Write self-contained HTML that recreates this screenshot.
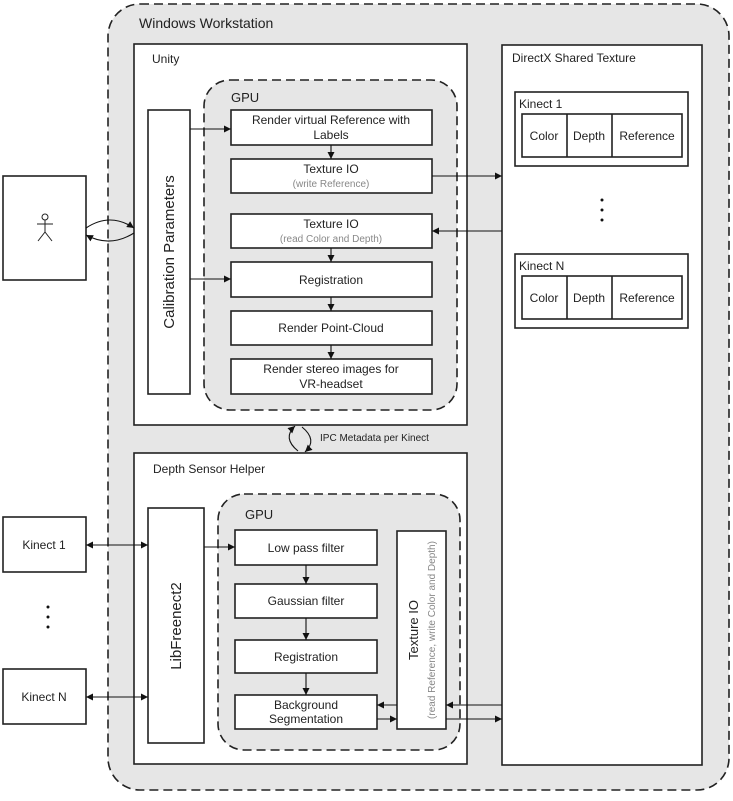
<!DOCTYPE html>
<html><head><meta charset="utf-8"><style>
body{margin:0;background:#fff}
svg text{font-family:"Liberation Sans",sans-serif;fill:#222}
</style></head><body>
<svg width="733" height="796" viewBox="0 0 733 796" xmlns="http://www.w3.org/2000/svg">
<defs>
<marker id="a" markerWidth="8" markerHeight="8" refX="7" refY="4" orient="auto" markerUnits="userSpaceOnUse"><path d="M0,0.5 L7,4 L0,7.5 Z" fill="#111"/></marker>
<marker id="b" markerWidth="8" markerHeight="8" refX="1" refY="4" orient="auto" markerUnits="userSpaceOnUse"><path d="M8,0.5 L1,4 L8,7.5 Z" fill="#111"/></marker>
</defs>
<g stroke="#222" stroke-width="1.6">
<rect x="108" y="4" width="621" height="786" rx="32" fill="#e6e6e6" stroke-dasharray="9,5"/>
<rect x="134" y="44" width="333" height="381" fill="#fff"/>
<rect x="204" y="80" width="253" height="330" rx="26" fill="#e6e6e6" stroke-dasharray="9,5"/>
<rect x="148" y="110" width="42" height="284" fill="#fff"/>
<rect x="231" y="110" width="201" height="35" fill="#fff"/>
<rect x="231" y="159" width="201" height="34" fill="#fff"/>
<rect x="231" y="214" width="201" height="34" fill="#fff"/>
<rect x="231" y="262" width="201" height="35" fill="#fff"/>
<rect x="231" y="311" width="201" height="34" fill="#fff"/>
<rect x="231" y="359" width="201" height="35" fill="#fff"/>
<rect x="3" y="176" width="83" height="104" fill="#fff"/>
<rect x="502" y="45" width="200" height="720" fill="#fff"/>
<rect x="515" y="92" width="173" height="74" fill="#fff"/>
<rect x="522" y="114" width="160" height="43" fill="#fff"/>
<line x1="567" y1="114" x2="567" y2="157"/><line x1="612" y1="114" x2="612" y2="157"/>
<rect x="515" y="254" width="173" height="74" fill="#fff"/>
<rect x="522" y="276" width="160" height="43" fill="#fff"/>
<line x1="567" y1="276" x2="567" y2="319"/><line x1="612" y1="276" x2="612" y2="319"/>
<rect x="134" y="453" width="333" height="311" fill="#fff"/>
<rect x="218" y="494" width="242" height="256" rx="26" fill="#e6e6e6" stroke-dasharray="9,5"/>
<rect x="148" y="508" width="56" height="235" fill="#fff"/>
<rect x="235" y="530" width="142" height="35" fill="#fff"/>
<rect x="235" y="584" width="142" height="34" fill="#fff"/>
<rect x="235" y="640" width="142" height="33" fill="#fff"/>
<rect x="235" y="695" width="142" height="34" fill="#fff"/>
<rect x="397" y="531" width="49" height="198" fill="#fff"/>
<rect x="3" y="517" width="83" height="55" fill="#fff"/>
<rect x="3" y="669" width="83" height="55" fill="#fff"/>
</g>
<g stroke="#111" stroke-width="1.1" fill="none">
<line x1="190" y1="129" x2="231" y2="129" marker-end="url(#a)"/>
<line x1="190" y1="279" x2="231" y2="279" marker-end="url(#a)"/>
<line x1="331" y1="145" x2="331" y2="159" marker-end="url(#a)"/>
<line x1="331" y1="248" x2="331" y2="262" marker-end="url(#a)"/>
<line x1="331" y1="297" x2="331" y2="311" marker-end="url(#a)"/>
<line x1="331" y1="345" x2="331" y2="359" marker-end="url(#a)"/>
<line x1="432" y1="176" x2="502" y2="176" marker-end="url(#a)"/>
<line x1="502" y1="231" x2="432" y2="231" marker-end="url(#a)"/>
<path d="M86,228 Q110,212 134,228" marker-end="url(#a)"/>
<path d="M134,233 Q110,248 86,235" marker-end="url(#a)"/>
<path d="M298,451 Q282,438 295,426" marker-end="url(#a)"/>
<path d="M302,427 Q318,440 305,452" marker-end="url(#a)"/>
<line x1="86" y1="545" x2="148" y2="545" marker-start="url(#b)" marker-end="url(#a)"/>
<line x1="86" y1="697" x2="148" y2="697" marker-start="url(#b)" marker-end="url(#a)"/>
<line x1="204" y1="547" x2="235" y2="547" marker-end="url(#a)"/>
<line x1="306" y1="565" x2="306" y2="584" marker-end="url(#a)"/>
<line x1="306" y1="618" x2="306" y2="640" marker-end="url(#a)"/>
<line x1="306" y1="673" x2="306" y2="695" marker-end="url(#a)"/>
<line x1="397" y1="705" x2="377" y2="705" marker-end="url(#a)"/>
<line x1="377" y1="719" x2="397" y2="719" marker-end="url(#a)"/>
<line x1="502" y1="705" x2="446" y2="705" marker-end="url(#a)"/>
<line x1="446" y1="719" x2="502" y2="719" marker-end="url(#a)"/>
</g>
<g fill="#111">
<circle cx="602" cy="200" r="1.5"/><circle cx="602" cy="210" r="1.5"/><circle cx="602" cy="220" r="1.5"/>
<circle cx="48" cy="607" r="1.5"/><circle cx="48" cy="617" r="1.5"/><circle cx="48" cy="627" r="1.5"/>
</g>
<g stroke="#222" stroke-width="1" fill="none">
<circle cx="45" cy="217" r="3"/><line x1="45" y1="220" x2="45" y2="232"/><line x1="37" y1="224" x2="53" y2="224"/><line x1="45" y1="232" x2="38" y2="241"/><line x1="45" y1="232" x2="52" y2="241"/>
</g>
<text x="139" y="28" font-size="14">Windows Workstation</text>
<text x="152" y="63" font-size="12">Unity</text>
<text x="231" y="102" font-size="13">GPU</text>
<text x="174" y="252" font-size="15" text-anchor="middle" transform="rotate(-90 174 252)">Calibration Parameters</text>
<g font-size="12" text-anchor="middle">
<text x="331" y="124">Render virtual Reference with</text><text x="331" y="139">Labels</text>
<text x="331" y="173">Texture IO</text><text x="331" y="187" font-size="10" style="fill:#888">(write Reference)</text>
<text x="331" y="228">Texture IO</text><text x="331" y="242" font-size="10" style="fill:#888">(read Color and Depth)</text>
<text x="331" y="284">Registration</text>
<text x="331" y="332">Render Point-Cloud</text>
<text x="331" y="373">Render stereo images for</text><text x="331" y="388">VR-headset</text>
<text x="544" y="140">Color</text><text x="589" y="140">Depth</text><text x="647" y="140">Reference</text>
<text x="544" y="302">Color</text><text x="589" y="302">Depth</text><text x="647" y="302">Reference</text>
<text x="44" y="549">Kinect 1</text><text x="44" y="701">Kinect N</text>
<text x="306" y="552">Low pass filter</text>
<text x="306" y="605">Gaussian filter</text>
<text x="306" y="661">Registration</text>
<text x="306" y="709">Background</text><text x="306" y="723">Segmentation</text>
</g>
<text x="519" y="108" font-size="12">Kinect 1</text>
<text x="519" y="270" font-size="12">Kinect N</text>
<text x="512" y="62" font-size="12">DirectX Shared Texture</text>
<text x="320" y="441" font-size="10">IPC Metadata per Kinect</text>
<text x="153" y="473" font-size="12">Depth Sensor Helper</text>
<text x="245" y="519" font-size="13">GPU</text>
<text x="181" y="626" font-size="15" text-anchor="middle" transform="rotate(-90 181 626)">LibFreenect2</text>
<text x="418" y="630" font-size="13" text-anchor="middle" transform="rotate(-90 418 630)">Texture IO</text>
<text x="435" y="630" font-size="10" text-anchor="middle" transform="rotate(-90 435 630)" style="fill:#888">(read Reference, write Color and Depth)</text>
</svg>
</body></html>
